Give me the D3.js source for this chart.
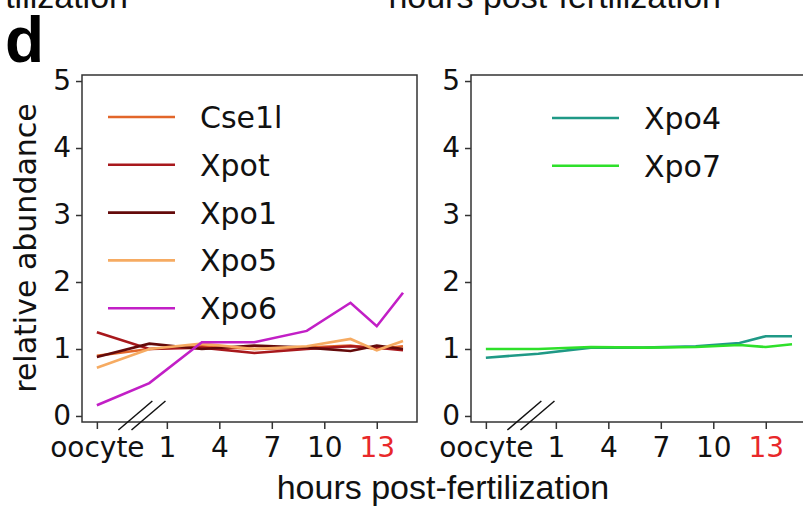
<!DOCTYPE html>
<html>
<head>
<meta charset="utf-8">
<script src="https://cdn.jsdelivr.net/npm/d3@7"></script>
<style>
  body { margin: 0; background: #fff; }
  svg { display: block; font-family: "DejaVu Sans", sans-serif; }
</style>
</head>
<body>
<script>
// time points (oocyte plotted at -3)
var hours = [-3, 0, 3, 6, 9, 11.5, 13, 14.5];
var tickHours = [-3, 1, 4, 7, 10, 13];
var tickLabels = ["oocyte", "1", "4", "7", "10", "13"];
var yTicks = [0, 1, 2, 3, 4, 5];

// left panel
var leftNames = ["Cse1l", "Xpot", "Xpo1", "Xpo5", "Xpo6"];
var leftColors = ["#e2662a", "#a8181c", "#640a0a", "#f6ab62", "#c21fc6"];
var cse1l = [0.90, 1.00, 1.04, 1.00, 1.02, 1.05, 1.00, 1.04];
var xpot  = [1.25, 1.00, 1.02, 0.94, 1.00, 1.04, 1.02, 0.98];
var xpo1  = [0.88, 1.08, 1.00, 1.05, 1.02, 0.97, 1.05, 1.00];
var xpo5  = [0.72, 1.00, 1.08, 1.00, 1.04, 1.15, 0.98, 1.12];
var xpo6  = [0.16, 0.49, 1.10, 1.10, 1.27, 1.69, 1.34, 1.84];

// right panel
var rightNames = ["Xpo4", "Xpo7"];
var rightColors = ["#1f9986", "#2ee02a"];
var xpo4 = [0.87, 0.93, 1.02, 1.02, 1.04, 1.09, 1.19, 1.19];
var xpo7 = [1.00, 1.00, 1.03, 1.02, 1.03, 1.06, 1.03, 1.07];

var width = 803, height = 510;

var svg = d3.select("body").append("svg")
    .attr("width", width)
    .attr("height", height);

// setup y (shared)
var yScale = d3.scaleLinear().domain([-0.09, 5.09]).range([422, 75]);

function drawPanel(x0, x1, names, colors, series, legendX, legendY0) {
  var xScale = d3.scaleLinear().domain([-3.85, 15.3]).range([x0, x1]);
  var g = svg.append("g");

  // frame
  g.append("rect")
      .attr("x", x0).attr("y", yScale.range()[1])
      .attr("width", x1 - x0).attr("height", yScale.range()[0] - yScale.range()[1])
      .attr("fill", "none").attr("stroke", "#333").attr("stroke-width", 1.5);

  // x-axis
  var xAxis = d3.axisBottom(xScale)
      .tickValues(tickHours)
      .tickSize(7)
      .tickPadding(8)
      .tickFormat(function(d, i) { return tickLabels[i]; });
  var gx = g.append("g")
      .attr("transform", "translate(0," + yScale.range()[0] + ")")
      .call(xAxis);
  gx.select(".domain").remove();
  gx.selectAll(".tick line").attr("stroke", "#333").attr("stroke-width", 1.5);
  gx.selectAll(".tick text")
      .style("font-family", "DejaVu Sans")
      .style("font-size", "28px")
      .attr("fill", function(d) { return d == 13 ? "#e8282a" : "#111"; });

  // y-axis
  var yAxis = d3.axisLeft(yScale)
      .tickValues(yTicks)
      .tickSize(6)
      .tickPadding(5)
      .tickFormat(d3.format("d"));
  var gy = g.append("g")
      .attr("transform", "translate(" + x0 + ",0)")
      .call(yAxis);
  gy.select(".domain").remove();
  gy.selectAll(".tick line").attr("stroke", "#333").attr("stroke-width", 1.5);
  gy.selectAll(".tick text")
      .style("font-family", "DejaVu Sans")
      .style("font-size", "28px")
      .attr("fill", "#111");

  // axis break marks
  [-0.8, -0.05].forEach(function(h) {
    var cx = xScale(h);
    g.append("line")
        .attr("x1", cx - 17).attr("y1", 430)
        .attr("x2", cx + 17).attr("y2", 401)
        .attr("stroke", "#111").attr("stroke-width", 1.5);
  });

  // lines
  var line = d3.line()
      .x(function(d, i) { return xScale(hours[i]); })
      .y(function(d) { return yScale(d); });
  series.forEach(function(s, i) {
    g.append("path")
        .attr("d", line(s))
        .attr("fill", "none")
        .attr("stroke", colors[i])
        .attr("stroke-width", 2.6);
  });

  // legend
  names.forEach(function(n, i) {
    var ly = legendY0 + i * 47.8;
    g.append("line")
        .attr("x1", legendX).attr("x2", legendX + 67)
        .attr("y1", ly).attr("y2", ly)
        .attr("stroke", colors[i]).attr("stroke-width", 2.6);
    g.append("text")
        .attr("x", legendX + 92).attr("y", ly + 11)
        .style("font-size", "30px")
        .attr("fill", "#111")
        .text(n);
  });
}

drawPanel(82, 417, leftNames, leftColors, [cse1l, xpot, xpo1, xpo5, xpo6], 108, 117);
drawPanel(471, 806, rightNames, rightColors, [xpo4, xpo7], 552, 118);

// y label
svg.append("text")
    .attr("transform", "translate(36,248) rotate(-90)")
    .attr("text-anchor", "middle")
    .style("font-size", "30px")
    .attr("fill", "#111")
    .text("relative abundance");

// x label
svg.append("text")
    .attr("x", 443).attr("y", 499)
    .attr("text-anchor", "middle")
    .style("font-family", "Liberation Sans, Arial, sans-serif")
    .style("font-size", "34px")
    .attr("fill", "#111")
    .text("hours post-fertilization");

// cut-off labels of the panels above
svg.append("text")
    .attr("x", 128).attr("y", 8)
    .attr("text-anchor", "end")
    .style("font-family", "Liberation Sans, Arial, sans-serif")
    .style("font-size", "34px")
    .attr("fill", "#111")
    .text("hours post-fertilization");
svg.append("text")
    .attr("x", 721).attr("y", 8)
    .attr("text-anchor", "end")
    .style("font-family", "Liberation Sans, Arial, sans-serif")
    .style("font-size", "34px")
    .attr("fill", "#111")
    .text("hours post-fertilization");

// panel letter
svg.append("text")
    .attr("x", 5).attr("y", 62)
    .style("font-family", "Liberation Sans, Arial, sans-serif")
    .style("font-weight", "bold")
    .style("font-size", "64px")
    .attr("fill", "#000")
    .text("d");
</script>
</body>
</html>
